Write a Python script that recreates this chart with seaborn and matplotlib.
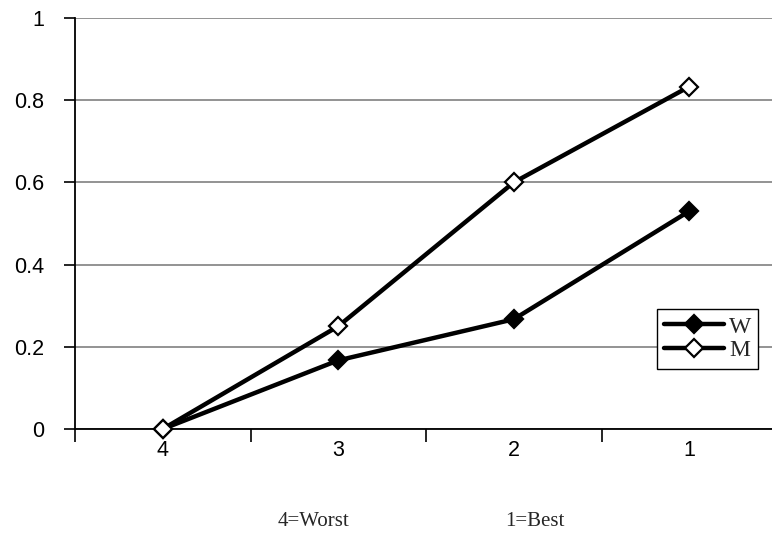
import matplotlib
matplotlib.use("Agg")
import matplotlib.pyplot as plt
import seaborn as sns
import pandas as pd

# Ranking categories, worst to best
categories = ["4", "3", "2", "1"]
women = [0.0, 0.167, 0.267, 0.53]
men = [0.0, 0.25, 0.60, 0.833]
y_ticks = [0, 0.2, 0.4, 0.6, 0.8, 1]
y_tick_labels = ["0", "0.2", "0.4", "0.6", "0.8", "1"]

sns.set_theme(style="white")
plt.rcParams["font.family"] = ["Liberation Sans", "DejaVu Sans"]

df = pd.DataFrame({
    "rank": list(range(len(categories))) * 2,
    "value": women + men,
    "group": ["W"] * len(categories) + ["M"] * len(categories),
})

fig = plt.figure(figsize=(7.72, 5.33), dpi=100)
W, H = 772, 533
ax = fig.add_axes([75 / W, (H - 429) / H, (772 - 75) / W, (429 - 18) / H])

styles = {
    "W": dict(markerfacecolor="black"),
    "M": dict(markerfacecolor="white"),
}
for grp in ["W", "M"]:
    sns.lineplot(
        data=df[df["group"] == grp], x="rank", y="value", ax=ax,
        color="black", linewidth=3.2, marker="D", markersize=9.5,
        markeredgecolor="black", markeredgewidth=1.6, label=grp,
        clip_on=False, zorder=3, **styles[grp],
    )

step = 697 / 175.5
ax.set_xlim(-0.5, -0.5 + step)
ax.set_ylim(0, 1)
ax.set_xticks(range(len(categories)))
ax.set_xticklabels(categories, fontsize=15.5)
ax.set_yticks(y_ticks)
ax.set_yticklabels(y_tick_labels, fontsize=15.5)
ax.set_xlabel("")
ax.set_ylabel("")

# boundary ticks between categories on the x axis
ax.set_xticks([-0.5, 0.5, 1.5, 2.5], minor=True)
ax.tick_params(bottom=True, left=True)
ax.tick_params(axis="x", which="major", length=0, pad=8, labelcolor="black")
ax.tick_params(axis="x", which="minor", bottom=True, length=9, width=1.2,
               direction="out", color="black")
ax.tick_params(axis="y", which="major", length=8, width=1.2, direction="out",
               color="black", pad=14, labelcolor="black")

ax.yaxis.grid(True, color="#808080", linewidth=1.2)
ax.xaxis.grid(False)
ax.set_axisbelow(True)
for side in ["top", "right"]:
    ax.spines[side].set_visible(False)
for side in ["left", "bottom"]:
    ax.spines[side].set_color("black")
    ax.spines[side].set_linewidth(1.3)

leg = ax.legend(
    loc="upper left", bbox_to_anchor=((657 - 75) / 697, (429 - 309) / 411),
    frameon=True, fancybox=False, edgecolor="black", framealpha=1,
    prop={"family": "Liberation Serif", "size": 17},
    handlelength=2.55, borderpad=0.3, labelspacing=0.1, handletextpad=0.2,
    borderaxespad=0,
)
leg.get_frame().set_linewidth(1.0)

fig.text(314 / W, 1 - 521 / H, "4=Worst", ha="center", va="center",
         family="Liberation Serif", fontsize=15)
fig.text(535 / W, 1 - 521 / H, "1=Best", ha="center", va="center",
         family="Liberation Serif", fontsize=15)

fig.savefig("out.png", dpi=100)
